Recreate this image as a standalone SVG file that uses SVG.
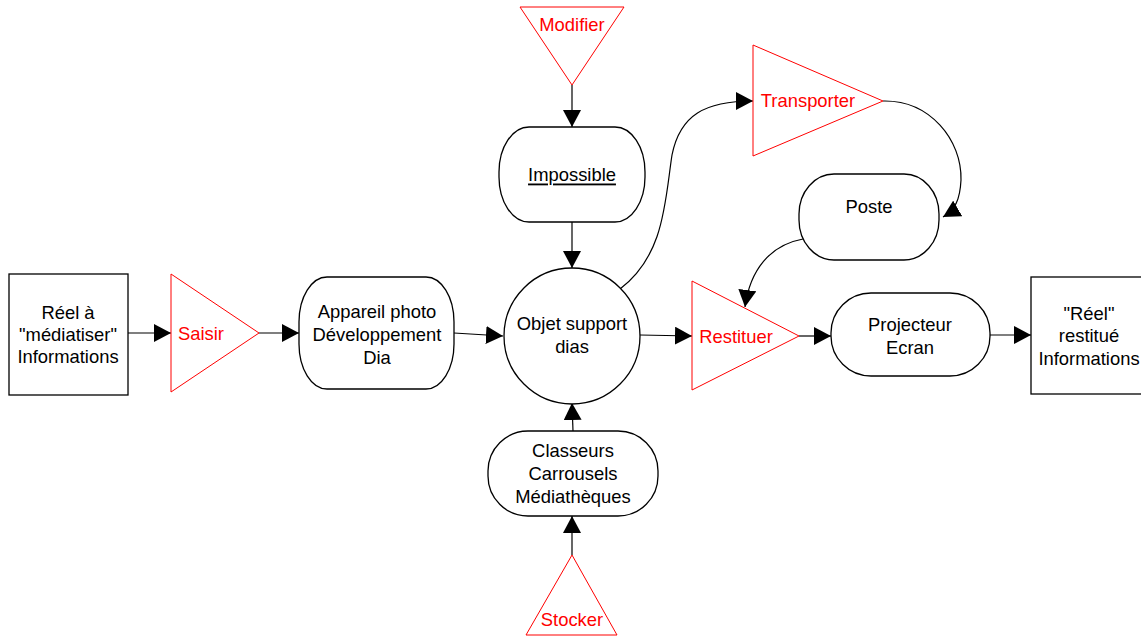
<svg xmlns="http://www.w3.org/2000/svg" width="1141" height="636" viewBox="0 0 1141 636">
<defs>
<style>
text{font-family:"Liberation Sans",Arial,sans-serif;font-size:18.4px;text-anchor:middle;dominant-baseline:central;fill:#000}
.red{fill:#ff0000}
.tri{fill:#fff;stroke:#ff0000;stroke-width:1}
.box{fill:#fff;stroke:#000;stroke-width:1.3}
.con{fill:none;stroke:#000;stroke-width:1.2}
</style>
<marker id="ah" markerUnits="userSpaceOnUse" markerWidth="18" markerHeight="18" viewBox="0 0 18 18" refX="17" refY="9" orient="auto">
<path d="M0,0 L17,9 L0,18 Z" fill="#000"/>
</marker>
</defs>
<g id="connectors">
<path class="con" d="M128,333 L171,333" marker-end="url(#ah)"/>
<path class="con" d="M259,333 L299,333" marker-end="url(#ah)"/>
<path class="con" d="M454,333 L503,336" marker-end="url(#ah)"/>
<path class="con" d="M572,85 L572,127" marker-end="url(#ah)"/>
<path class="con" d="M572,222 L572,268" marker-end="url(#ah)"/>
<path class="con" d="M573,431 L572,403" marker-end="url(#ah)"/>
<path class="con" d="M572,555 L572,516" marker-end="url(#ah)"/>
<path class="con" d="M620,289 C665,255 665,200 672,155 C680,115 705,101 753,101" marker-end="url(#ah)"/>
<path class="con" d="M883,101 C930,100 962,140 961,180 C960,200 955,210 943,217" marker-end="url(#ah)"/>
<path class="con" d="M803,239 C770,245 750,270 745,307" marker-end="url(#ah)"/>
<path class="con" d="M640,335 L692,336" marker-end="url(#ah)"/>
<path class="con" d="M799,336 L831,336" marker-end="url(#ah)"/>
<path class="con" d="M990,335 L1031,335" marker-end="url(#ah)"/>
</g>
<g id="reel">
<rect class="box" x="9" y="274" width="119" height="121"/>
<text x="68" y="312">Réel à</text>
<text x="68" y="334">"médiatiser"</text>
<text x="68" y="356">Informations</text>
</g>
<g id="saisir">
<polygon class="tri" points="171,274 259,333 171,392"/>
<text class="red" x="201" y="333">Saisir</text>
</g>
<g id="appareil">
<rect class="box" x="299" y="277" width="155" height="112" rx="28" ry="45"/>
<text x="377" y="311">Appareil photo</text>
<text x="377" y="334">Développement</text>
<text x="377" y="357">Dia</text>
</g>
<g id="objet">
<circle class="box" cx="572" cy="336" r="68"/>
<text x="572" y="323">Objet support</text>
<text x="572" y="346">dias</text>
</g>
<g id="modifier">
<polygon class="tri" points="520,7 624,7 572,85"/>
<text class="red" x="572" y="24">Modifier</text>
</g>
<g id="impossible">
<rect class="box" x="499" y="127" width="146" height="95" rx="30" ry="45"/>
<text x="572" y="174" text-decoration="underline">Impossible</text>
</g>
<g id="classeurs">
<rect class="box" x="488" y="431" width="170" height="85" rx="40" ry="40"/>
<text x="573" y="450">Classeurs</text>
<text x="573" y="473">Carrousels</text>
<text x="573" y="496">Médiathèques</text>
</g>
<g id="stocker">
<polygon class="tri" points="572,555 617,635 526,635"/>
<text class="red" x="572" y="619">Stocker</text>
</g>
<g id="transporter">
<polygon class="tri" points="753,45 883,101 753,156"/>
<text class="red" x="808" y="100">Transporter</text>
</g>
<g id="poste">
<rect class="box" x="799" y="174" width="140" height="86" rx="35" ry="40"/>
<text x="869" y="206">Poste</text>
</g>
<g id="restituer">
<polygon class="tri" points="692,281 799,336 692,390"/>
<text class="red" x="736" y="336">Restituer</text>
</g>
<g id="projecteur">
<rect class="box" x="831" y="293" width="159" height="83" rx="40" ry="40"/>
<text x="910" y="324">Projecteur</text>
<text x="910" y="347">Ecran</text>
</g>
<g id="restitue">
<rect class="box" x="1031" y="277" width="118" height="117"/>
<text x="1089" y="313">"Réel"</text>
<text x="1089" y="335">restitué</text>
<text x="1089" y="358">Informations</text>
</g>
</svg>
